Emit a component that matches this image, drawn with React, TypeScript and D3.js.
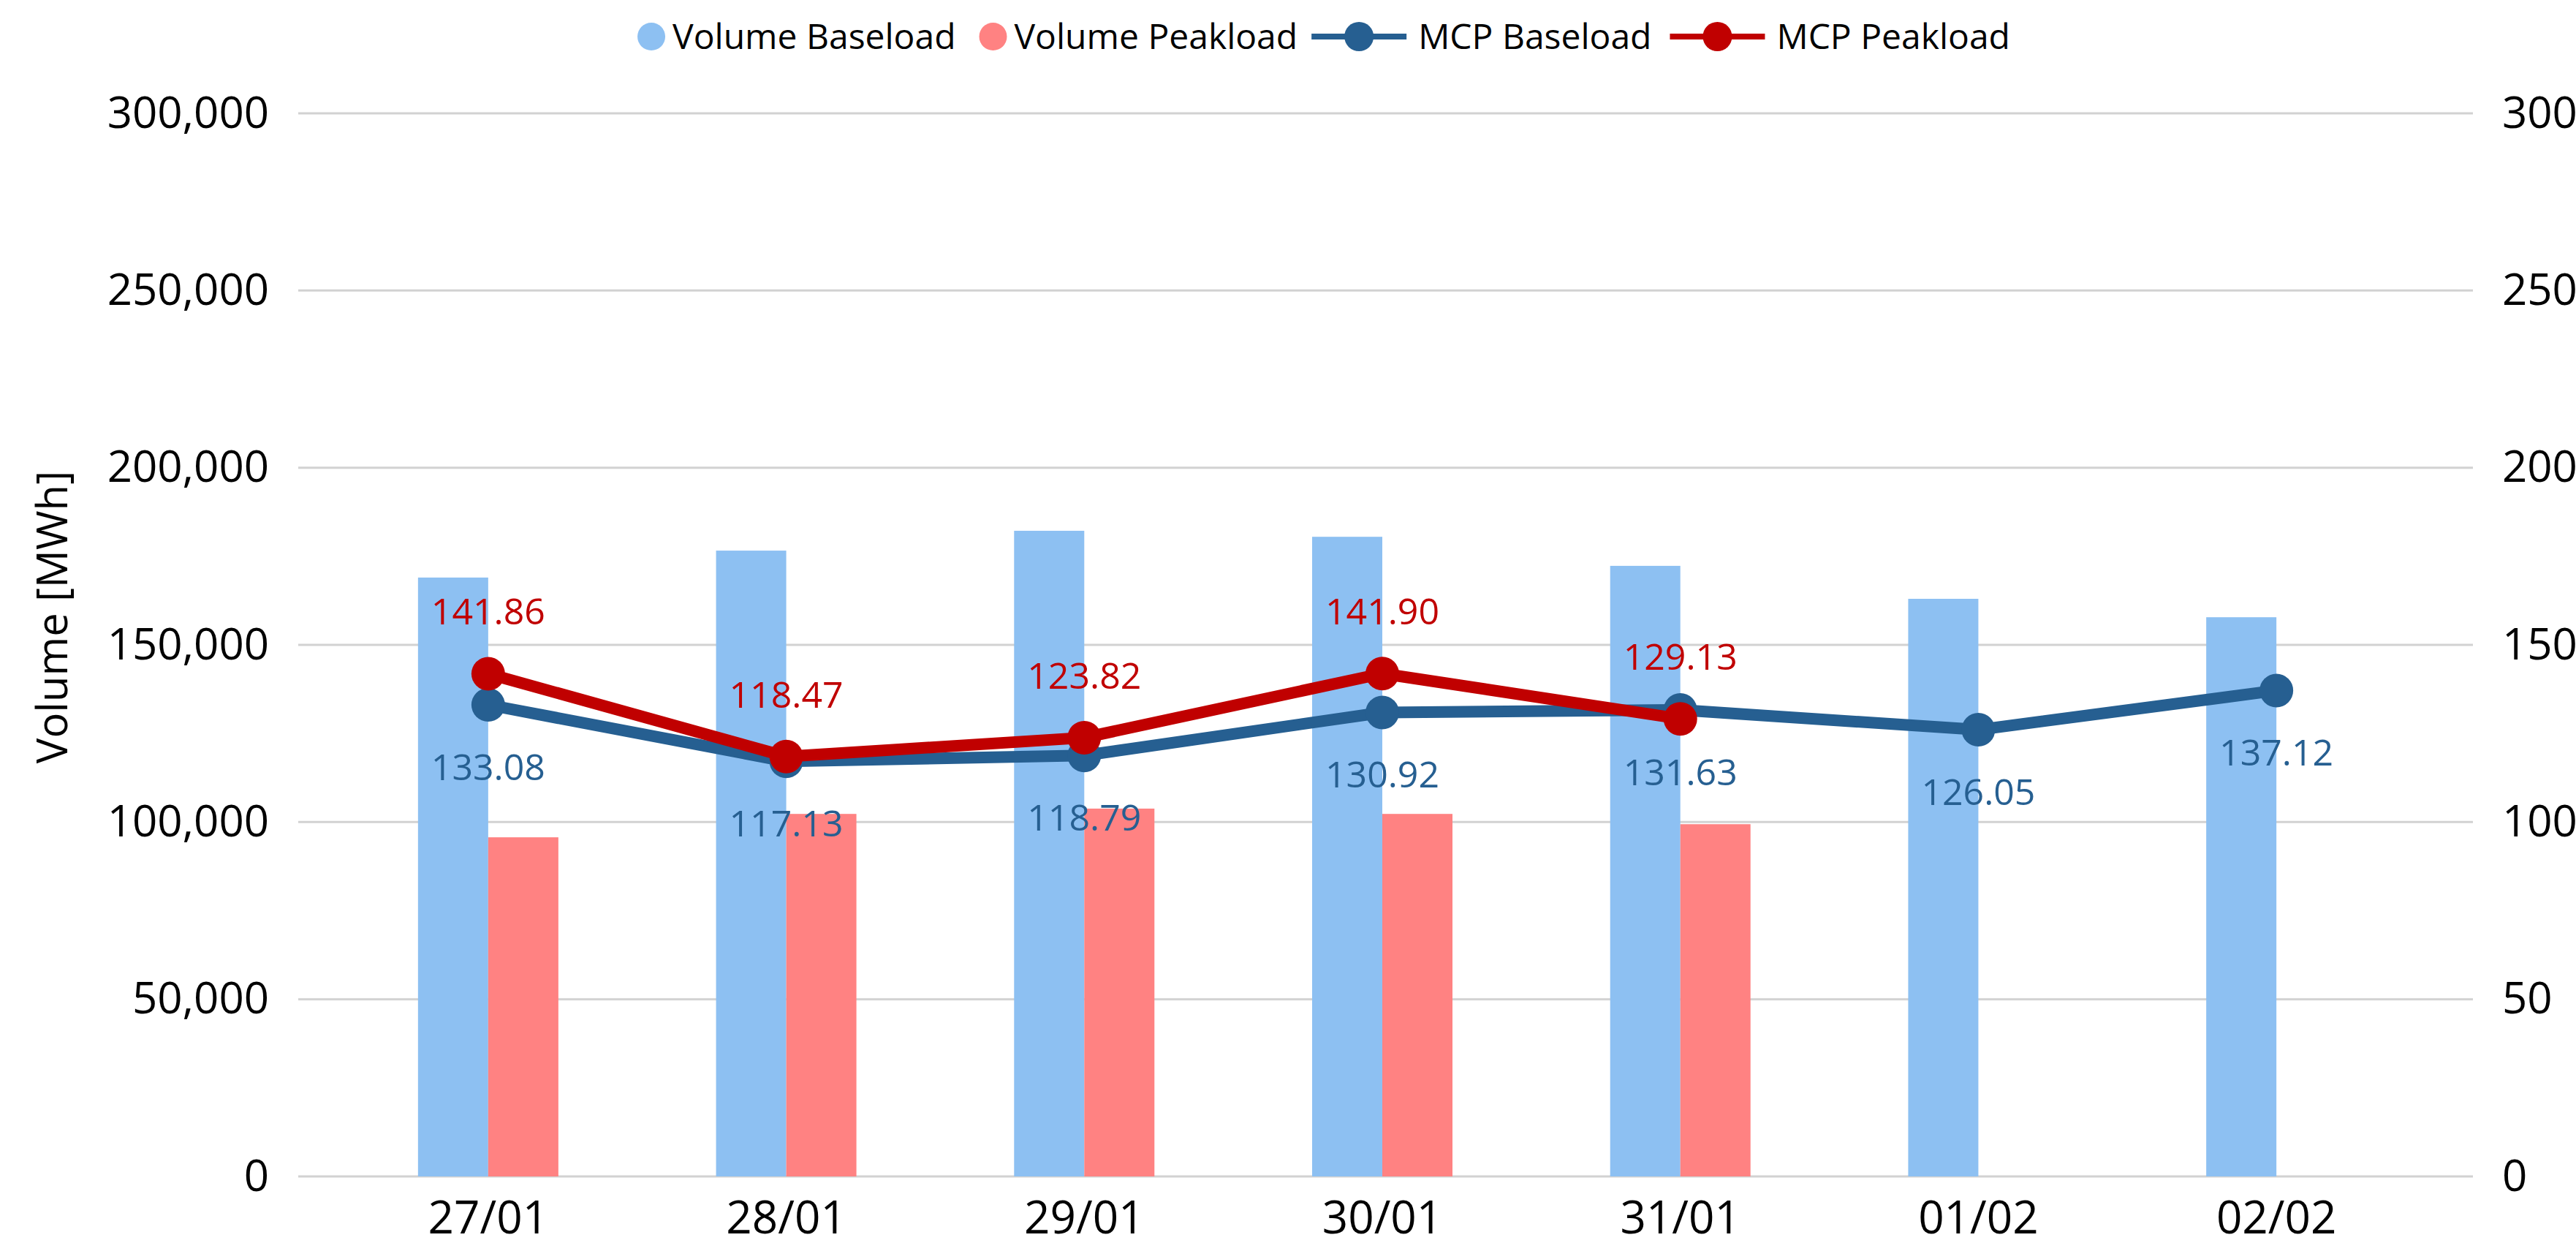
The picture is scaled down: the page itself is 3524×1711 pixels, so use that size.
import { useEffect, useRef } from "react";
import { axisBottom, axisLeft, axisRight, format, line, scaleBand, scaleLinear, select } from "d3";

const days = ["27/01", "28/01", "29/01", "30/01", "31/01", "01/02", "02/02"];
const volumeBase = [169000, 176600, 182200, 180500, 172300, 163000, 157800];
const volumePeak: (number | null)[] = [95700, 102300, 103800, 102300, 99400, null, null];
const mcpBase = [133.08, 117.13, 118.79, 130.92, 131.63, 126.05, 137.12];
const mcpPeak: (number | null)[] = [141.86, 118.47, 123.82, 141.9, 129.13, null, null];
const volumeTicks = [0, 50000, 100000, 150000, 200000, 250000, 300000];
const priceTicks = [0, 50, 100, 150, 200, 250, 300];

const W = 3524;
const H = 1711;
const FONT = "'Open Sans', 'Noto Sans', sans-serif";
const C_VOL_BASE = "#8dc0f2";
const C_VOL_PEAK = "#ff8282";
const C_MCP_BASE = "#265f91";
const C_MCP_PEAK = "#c00000";

export default function App() {
  const svgRef = useRef<SVGSVGElement>(null);

  useEffect(() => {
    if (!svgRef.current) return;
    const svg = select(svgRef.current);
    svg.selectAll("*").remove();

    const left = 408;
    const right = 3383;
    const top = 155;
    const bottom = 1609;

    const yVol = scaleLinear().domain([0, 300000]).range([bottom, top]);
    const yPrice = scaleLinear().domain([0, 300]).range([bottom, top]);
    const x = scaleBand<string>().domain(days).range([464, 3318]).padding(0);
    const bw = x.bandwidth();
    const barW = 96;
    const inner = scaleBand<string>()
      .domain(["base", "peak"])
      .range([0, bw])
      .paddingInner(0)
      .paddingOuter((bw / barW - 2) / 2);
    const cx = (d: string) => (x(d) ?? 0) + bw / 2;

    // gridlines
    svg
      .append("g")
      .selectAll("line")
      .data(volumeTicks)
      .join("line")
      .attr("x1", left)
      .attr("x2", right)
      .attr("y1", (d) => yVol(d))
      .attr("y2", (d) => yVol(d))
      .attr("stroke", "#d2d2d2")
      .attr("stroke-width", 3);

    // axes
    const styleAxis = (g: any, size: number) => {
      g.select(".domain").remove();
      g.selectAll("text").attr("font-size", size).attr("font-family", FONT).attr("fill", "#000");
    };
    svg
      .append("g")
      .attr("transform", `translate(${left},0)`)
      .call(axisLeft(yVol).tickValues(volumeTicks).tickSize(0).tickPadding(40).tickFormat(format(",") as any))
      .call((g) => styleAxis(g, 60));
    svg
      .append("g")
      .attr("transform", `translate(${right},0)`)
      .call(axisRight(yPrice).tickValues(priceTicks).tickSize(0).tickPadding(40))
      .call((g) => styleAxis(g, 60));
    svg
      .append("g")
      .attr("transform", `translate(0,${bottom})`)
      .call(axisBottom(x).tickSize(0).tickPadding(34))
      .call((g) => styleAxis(g, 62));

    // y title
    svg
      .append("text")
      .attr("transform", `translate(92,844) rotate(-90)`)
      .attr("text-anchor", "middle")
      .attr("font-size", 58)
      .attr("font-family", FONT)
      .text("Volume [MWh]");

    // bars
    const bars = svg.append("g");
    bars
      .selectAll("rect.base")
      .data(days)
      .join("rect")
      .attr("class", "base")
      .attr("x", (d) => (x(d) ?? 0) + (inner("base") ?? 0))
      .attr("width", inner.bandwidth())
      .attr("y", (_, i) => yVol(volumeBase[i]))
      .attr("height", (_, i) => bottom - yVol(volumeBase[i]))
      .attr("fill", C_VOL_BASE);
    bars
      .selectAll("rect.peak")
      .data(days.filter((_, i) => volumePeak[i] != null))
      .join("rect")
      .attr("class", "peak")
      .attr("x", (d) => (x(d) ?? 0) + (inner("peak") ?? 0))
      .attr("width", inner.bandwidth())
      .attr("y", (_, i) => yVol(volumePeak[i] as number))
      .attr("height", (_, i) => bottom - yVol(volumePeak[i] as number))
      .attr("fill", C_VOL_PEAK);

    // lines
    const drawSeries = (vals: (number | null)[], color: string, labelDy: number) => {
      const pts = days
        .map((d, i) => ({ d, v: vals[i] }))
        .filter((p) => p.v != null) as { d: string; v: number }[];
      const path = line<{ d: string; v: number }>()
        .x((p) => cx(p.d))
        .y((p) => yPrice(p.v));
      const g = svg.append("g");
      g.append("path")
        .datum(pts)
        .attr("d", path)
        .attr("fill", "none")
        .attr("stroke", color)
        .attr("stroke-width", 16)
        .attr("stroke-linejoin", "round");
      g.selectAll("circle")
        .data(pts)
        .join("circle")
        .attr("cx", (p) => cx(p.d))
        .attr("cy", (p) => yPrice(p.v))
        .attr("r", 23)
        .attr("fill", color);
      return { g, pts, labelDy, color };
    };
    const baseS = drawSeries(mcpBase, C_MCP_BASE, 103);
    const peakS = drawSeries(mcpPeak, C_MCP_PEAK, -67);

    for (const s of [baseS, peakS]) {
      svg
        .append("g")
        .selectAll("text")
        .data(s.pts)
        .join("text")
        .attr("x", (p) => cx(p.d))
        .attr("y", (p) => yPrice(p.v) + s.labelDy)
        .attr("text-anchor", "middle")
        .attr("font-size", 50)
        .attr("font-family", FONT)
        .attr("fill", s.color)
        .text((p) => p.v.toFixed(2));
    }

    // legend
    const legendItems = [
      { name: "Volume Baseload", color: C_VOL_BASE, kind: "dot" },
      { name: "Volume Peakload", color: C_VOL_PEAK, kind: "dot" },
      { name: "MCP Baseload", color: C_MCP_BASE, kind: "line" },
      { name: "MCP Peakload", color: C_MCP_PEAK, kind: "line" },
    ];
    const lg = svg.append("g");
    let pos = 0;
    legendItems.forEach((it, i) => {
      const item = lg.append("g").attr("transform", `translate(${pos},0)`);
      let tx;
      if (it.kind === "dot") {
        item.append("circle").attr("cx", 19).attr("cy", 0).attr("r", 19).attr("fill", it.color);
        tx = 48;
      } else {
        item
          .append("line")
          .attr("x1", 0)
          .attr("x2", 130)
          .attr("stroke", it.color)
          .attr("stroke-width", 8);
        item.append("circle").attr("cx", 65).attr("cy", 0).attr("r", 20).attr("fill", it.color);
        tx = 146;
      }
      const t = item
        .append("text")
        .attr("x", tx)
        .attr("dy", "0.35em")
        .attr("font-size", 48)
        .attr("font-family", FONT)
        .text(it.name);
      const len = (t.node() as SVGTextElement).getComputedTextLength();
      pos += tx + len + (i < 1 ? 32 : i < 2 ? 19 : 25);
    });
    const total = pos - 25;
    lg.attr("transform", `translate(${1811 - total / 2},50)`);
  }, []);

  return (
    <svg
      ref={svgRef}
      width={W}
      height={H}
      style={{ position: "absolute", left: 0, top: 0, background: "#fff" }}
    />
  );
}
